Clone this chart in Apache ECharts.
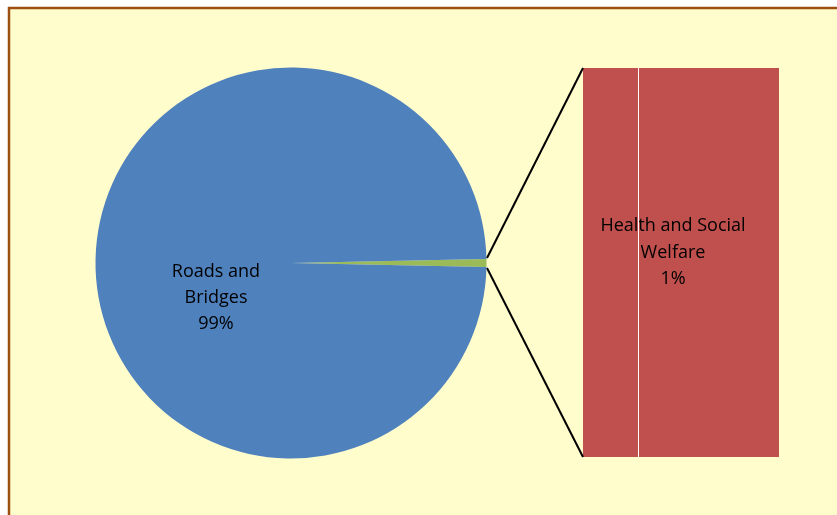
<!DOCTYPE html>
<html>
<head>
<meta charset="utf-8">
<script src="https://cdn.jsdelivr.net/npm/echarts@6/dist/echarts.min.js"></script>
<style>
html,body{margin:0;padding:0;background:#ffffff;}
#c{width:837px;height:515px;}
</style>
</head>
<body>
<div id="c"></div>
<script>
// Data
const pieCategories = ['Other', 'Roads and Bridges'];
const pieValues = [0.65, 99.35];
const pieLabels = ['', 'Roads and\nBridges\n99%'];
const barCategories = ['Health and Social Welfare'];
const barValues = [0.65];
const barLabels = ['Health and Social\nWelfare\n1%'];

const chart = echarts.init(document.getElementById('c'), null, {renderer: 'canvas'});
const FONT = 'Open Sans';
const otherHalfAngle = pieValues[0] / (pieValues[0] + pieValues[1]) * 360 / 2;

const option = {
  backgroundColor: '#ffffff',
  animation: false,
  graphic: [
    {type: 'rect', z: -10, shape: {x: 9, y: 8, width: 840, height: 520}, style: {fill: '#fffdcc', stroke: '#9c4f10', lineWidth: 2.5}},
    {type: 'line', z: 10, shape: {x1: 487, y1: 258, x2: 583, y2: 68}, style: {stroke: '#000', lineWidth: 2}},
    {type: 'line', z: 10, shape: {x1: 487, y1: 268, x2: 583, y2: 457}, style: {stroke: '#000', lineWidth: 2}},
    {type: 'line', z: 10, shape: {x1: 638.5, y1: 68, x2: 638.5, y2: 457}, style: {stroke: '#ffffff', lineWidth: 1}}
  ],
  grid: {left: 583, top: 68, width: 196, height: 389},
  xAxis: {type: 'category', data: barCategories, show: false},
  yAxis: {type: 'value', min: 0, max: barValues[0], show: false},
  series: [
    {
      type: 'pie',
      center: [291, 263],
      radius: 195.5,
      startAngle: otherHalfAngle,
      clockwise: true,
      avoidLabelOverlap: false,
      data: pieCategories.map((c, i) => ({
        name: c, value: pieValues[i],
        itemStyle: {color: i === 0 ? '#9bbb59' : '#4f81bd'},
        label: {show: i === 1}
      })),
      label: {
        position: 'inside',
        formatter: p => pieLabels[p.dataIndex],
        color: '#000',
        fontFamily: FONT,
        fontSize: 18,
        lineHeight: 26,
        align: 'center'
      },
      labelLine: {show: false},
      labelLayout: p => p.dataIndex === 1 ? {x: 216, y: 298, align: 'center', verticalAlign: 'middle'} : {},
      emphasis: {disabled: true}
    },
    {
      type: 'bar',
      data: barValues,
      barWidth: '100%',
      itemStyle: {color: '#c0504d'},
      label: {
        show: true,
        position: 'inside',
        offset: [-8, -10],
        formatter: p => barLabels[p.dataIndex],
        color: '#000',
        fontFamily: FONT,
        fontSize: 18,
        lineHeight: 26.5,
        align: 'center'
      },
      emphasis: {disabled: true}
    }
  ]
};
chart.setOption(option);
</script>
</body>
</html>
